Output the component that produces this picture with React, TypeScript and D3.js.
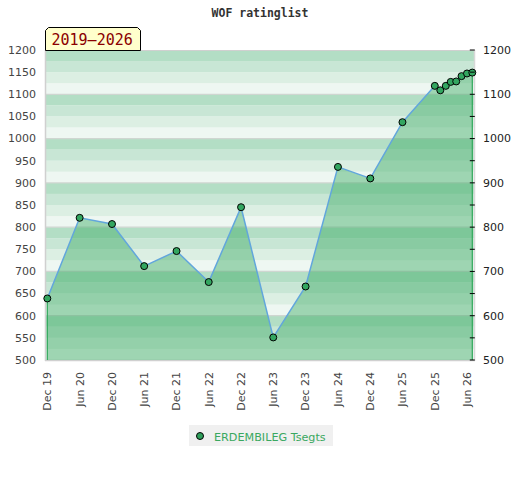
import React from "react";
import * as d3 from "d3";

const title = "WOF ratinglist";
const periodLabel = "2019–2026";
const playerName = "ERDEMBILEG Tsegts";

const ratingDates = [
  "2019-12", "2020-06", "2020-12", "2021-06", "2021-12", "2022-06", "2022-12",
  "2023-06", "2023-12", "2024-06", "2024-12", "2025-06", "2025-12",
  "2026-01", "2026-02", "2026-03", "2026-04", "2026-05", "2026-06", "2026-07",
];
const ratings = [
  639, 821, 807, 712, 746, 676, 845, 551, 666, 936, 910, 1037, 1119,
  1109, 1119, 1128, 1129, 1141, 1147, 1149,
];

const yTicks = [500, 550, 600, 650, 700, 750, 800, 850, 900, 950, 1000, 1050, 1100, 1150, 1200];
const yRightTicks = [500, 600, 700, 800, 900, 1000, 1100, 1200];
const xTickDates = [
  "2019-12", "2020-06", "2020-12", "2021-06", "2021-12", "2022-06", "2022-12",
  "2023-06", "2023-12", "2024-06", "2024-12", "2025-06", "2025-12", "2026-06",
];
const xDomain = ["2019-12", "2026-07"];
const yDomain = [500, 1200];

const parse = d3.timeParse("%Y-%m");
const fmt = d3.timeFormat("%b %y");

const bandColors = ["#b3dec5", "#c8e6d5", "#dcefe3", "#eef7f2"];

export default function App() {
  const W = 520, H = 480;
  const plotL = 46, plotR = 474, plotT = 50, plotB = 360;
  const x = d3.scaleTime()
    .domain(xDomain.map((s) => parse(s) as Date))
    .range([47.3, 472.3]);
  const y = d3.scaleLinear().domain(yDomain).range([plotB, plotT]);

  const data = ratingDates.map((s, i) => ({ date: parse(s) as Date, v: ratings[i] }));

  const bands: { top: number; bottom: number; color: string }[] = [];
  for (let v = yDomain[0]; v < yDomain[1]; v += 25) {
    const idx = Math.round((yDomain[1] - (v + 25)) / 25) % 4;
    bands.push({ top: y(v + 25), bottom: y(v), color: bandColors[idx] });
  }
  const gridLines = yTicks.filter((v) => v % 100 === 0 && v > yDomain[0] && v < yDomain[1]);

  const area = d3.area<{ date: Date; v: number }>()
    .x((d) => x(d.date))
    .y0(y(yDomain[0]))
    .y1((d) => y(d.v));
  const line = d3.line<{ date: Date; v: number }>()
    .x((d) => x(d.date))
    .y((d) => y(d.v));

  const first = data[0];
  const last = data[data.length - 1];
  const axisFont = "DejaVu Sans, sans-serif";

  return (
    <svg width={W} height={H} style={{ position: "absolute", left: 0, top: 0 }}>
      <rect width={W} height={H} fill="#ffffff" />
      <text x={260} y={17} textAnchor="middle" fontFamily="DejaVu Sans Mono, monospace"
        fontWeight="bold" fontSize={11.5} fill="#333">{title}</text>

      {bands.map((b, i) => (
        <rect key={i} x={plotL} y={b.top} width={plotR - plotL} height={b.bottom - b.top} fill={b.color} />
      ))}
      {gridLines.map((v) => (
        <line key={v} x1={plotL} x2={plotR} y1={y(v)} y2={y(v)} stroke="#cfd6d1" strokeWidth={1.2} />
      ))}
      <line x1={plotL} x2={plotR} y1={plotT + 0.5} y2={plotT + 0.5} stroke="#d0d0d0" strokeWidth={1} />
      <line x1={plotL - 0.5} x2={plotL - 0.5} y1={plotT} y2={plotB + 1} stroke="#d0d0d0" strokeWidth={1.5} />
      <line x1={plotR + 0.5} x2={plotR + 0.5} y1={plotT} y2={plotB + 1} stroke="#d8d8d8" strokeWidth={1.5} />
      <line x1={plotL - 1} x2={plotR + 1} y1={plotB + 0.5} y2={plotB + 0.5} stroke="#d0d0d0" strokeWidth={1.5} />

      <path d={area(data) || ""} fill="rgb(60,170,100)" fillOpacity={0.45} />
      <line x1={x(first.date)} x2={x(first.date)} y1={y(first.v)} y2={y(yDomain[0])} stroke="#2ea85a" strokeWidth={1.2} />
      <line x1={x(last.date)} x2={x(last.date)} y1={y(last.v)} y2={y(yDomain[0])} stroke="#2ea85a" strokeWidth={1.2} />
      <path d={line(data) || ""} fill="none" stroke="#62a6dc" strokeWidth={1.5} />
      {data.map((d, i) => (
        <circle key={i} cx={x(d.date)} cy={y(d.v)} r={3.5} fill="#33a660" stroke="#000" strokeWidth={1} />
      ))}

      {yTicks.map((v) => (
        <text key={v} x={36} y={y(v)} dy="0.35em" textAnchor="end" fontFamily={axisFont}
          fontSize={11} fill="#444">{v}</text>
      ))}
      {yTicks.map((v) => (
        <line key={"t" + v} x1={x(last.date) - 2.5} x2={x(last.date) + 2.5} y1={y(v)} y2={y(v)} stroke="#000" strokeWidth={1} />
      ))}
      {yRightTicks.map((v) => (
        <text key={"r" + v} x={483} y={y(v)} dy="0.35em" textAnchor="start" fontFamily={axisFont}
          fontSize={11} fill="#222">{v}</text>
      ))}
      {xTickDates.map((s) => {
        const d = parse(s) as Date;
        return (
          <text key={s} transform={`translate(${x(d)},372) rotate(-90)`} dy="0.35em" textAnchor="end"
            fontFamily={axisFont} fontSize={11} fill="#444">{fmt(d)}</text>
        );
      })}

      <path d="M45.5,50.5 L45.5,30.5 L48.5,27.5 L137.5,27.5 L140.5,30.5 L140.5,50.5 Z"
        fill="#ffffcc" stroke="#000" strokeWidth={1} />
      <text x={51.5} y={45} fontFamily="DejaVu Sans Mono, monospace" fontSize={15} fill="#8b0000">{periodLabel}</text>

      <rect x={189} y={425} width={144} height={21} fill="#f0f0f0" />
      <circle cx={200} cy={436} r={3.5} fill="#2e9e5a" stroke="#000" strokeWidth={1} />
      <text x={214} y={440.5} fontFamily={axisFont} fontSize={11.2} fill="#3aa860">{playerName}</text>
    </svg>
  );
}
